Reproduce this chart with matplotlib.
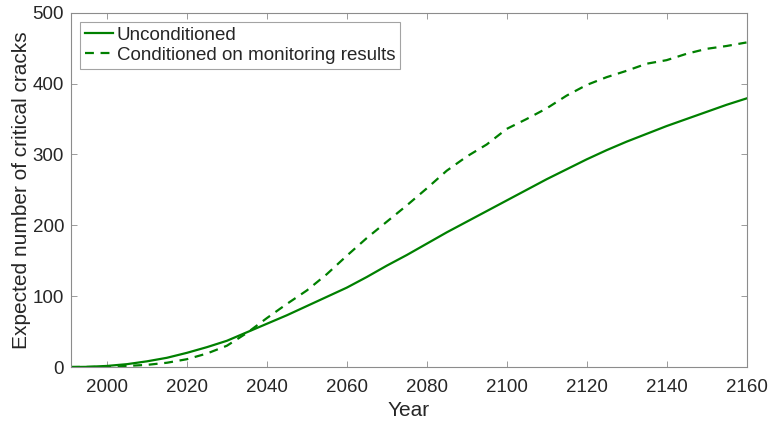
import matplotlib

matplotlib.use("Agg")

import matplotlib.pyplot as plt

plt.rcParams["font.family"] = ["Liberation Sans", "DejaVu Sans"]

YEARS = [1991, 1995, 2000, 2005, 2010, 2015, 2020, 2025, 2030, 2035, 2040, 2045,
         2050, 2055, 2060, 2065, 2070, 2075, 2080, 2085, 2090, 2095, 2100, 2105,
         2110, 2115, 2120, 2125, 2130, 2135, 2140, 2145, 2150, 2155, 2160]
UNCONDITIONED = [0, 0.2, 1.5, 4, 8, 13, 20, 28, 37, 49, 61, 73,
                 86, 99, 112, 127, 143, 158, 174, 190, 205, 220, 235, 250,
                 265, 279, 293, 306, 318, 329, 340, 350, 360, 370, 379]
CONDITIONED = [0, 0.1, 0.3, 1.5, 3, 6, 11, 19, 30, 48, 69, 89,
               108, 131, 157, 182, 205, 228, 252, 277, 297, 314, 336, 350,
               365, 383, 398, 409, 418, 428, 433, 442, 449, 453, 458]
LABELS = ["Unconditioned", "Conditioned on monitoring results"]

GREEN = "#008000"
TEXT = "#262626"
EDGE = "#8c8c8c"

fig = plt.figure(figsize=(7.68, 4.25), dpi=100)
ax = fig.add_axes([71 / 768, 1 - 367 / 425, (746.5 - 71) / 768, (367 - 12.7) / 425])

ax.plot(YEARS, UNCONDITIONED, color=GREEN, linewidth=1.6, label=LABELS[0])
ax.plot(YEARS, CONDITIONED, color=GREEN, linewidth=1.6, linestyle=(0, (4, 3)),
        label=LABELS[1])

ax.set_xlim(1991, 2160)
ax.set_ylim(0, 500)
ax.set_xticks(range(2000, 2161, 20))
ax.set_yticks(range(0, 501, 100))
ax.tick_params(direction="in", top=True, right=True, length=4, width=0.6,
               color=EDGE, labelcolor=TEXT, labelsize=13.5)
ax.tick_params(axis="x", pad=9)
ax.tick_params(axis="y", pad=5)
for spine in ax.spines.values():
    spine.set_color(EDGE)
    spine.set_linewidth(0.8)

ax.set_xlabel("Year", fontsize=15, color=TEXT, labelpad=3)
ax.set_ylabel("Expected number of critical cracks", fontsize=15, color=TEXT, labelpad=1)

legend = ax.legend(loc="upper left", fontsize=13.5, frameon=True, fancybox=False,
                   handlelength=1.5, handletextpad=0.2, borderpad=0.25,
                   labelspacing=0.15, borderaxespad=0.5)
legend.get_frame().set_edgecolor(EDGE)
legend.get_frame().set_linewidth(0.8)
for text in legend.get_texts():
    text.set_color(TEXT)

fig.savefig("out.png", dpi=100, facecolor="white")
